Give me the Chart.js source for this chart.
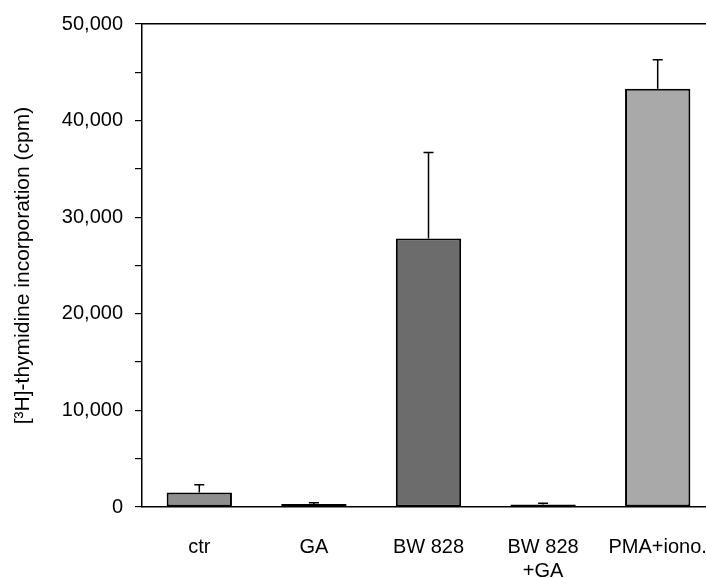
<!DOCTYPE html>
<html>
<head>
<meta charset="utf-8">
<script src="https://cdn.jsdelivr.net/npm/chart.js@4/dist/chart.umd.min.js"></script>
<style>
  html, body { margin: 0; padding: 0; background: #fff; overflow: hidden; width: 706px; height: 578px; }
  canvas { display: block; }
</style>
</head>
<body>
<canvas id="c" width="715" height="578" style="width:715px;height:578px"></canvas>
<script>
const categories = ['ctr', 'GA', 'BW 828', ['BW 828', '+GA'], 'PMA+iono.'];
const values = [1500, 300, 27800, 250, 43300];
const errors = [800, 150, 8900, 150, 3000];
const yTicks = [0, 10000, 20000, 30000, 40000, 50000];
const yTitle = '[\u00B3H]-thymidine incorporation (cpm)';

const barColors = ['#8e8e8e', '#222222', '#6c6c6c', '#222222', '#a9a9a9'];

const errorBars = {
  id: 'errorBars',
  afterDatasetsDraw(chart) {
    const ctx = chart.ctx;
    const meta = chart.getDatasetMeta(0);
    const ys = chart.scales.y;
    ctx.save();
    ctx.strokeStyle = '#000';
    ctx.lineWidth = 1.5;
    meta.data.forEach((bar, i) => {
      const x = bar.x;
      const yTop = ys.getPixelForValue(values[i]);
      const yErr = ys.getPixelForValue(values[i] + errors[i]);
      ctx.beginPath();
      ctx.moveTo(x, yTop);
      ctx.lineTo(x, yErr);
      ctx.moveTo(x - 5, yErr);
      ctx.lineTo(x + 5, yErr);
      ctx.stroke();
    });
    ctx.restore();
  }
};

function noSidePadding(scale) {
  scale.paddingLeft = 0;
  scale.paddingRight = 0;
}

new Chart(document.getElementById('c'), {
  type: 'bar',
  data: {
    labels: categories,
    datasets: [{
      data: values,
      backgroundColor: barColors,
      borderColor: '#000',
      borderWidth: 2,
      borderSkipped: false,
      barPercentage: 0.57,
      categoryPercentage: 1.0
    }]
  },
  options: {
    responsive: false,
    animation: false,
    devicePixelRatio: 1,
    layout: { padding: { top: 18, right: 0, bottom: 0, left: 0 } },
    plugins: {
      legend: { display: false },
      tooltip: { enabled: false }
    },
    scales: {
      x: {
        position: 'bottom',
        grid: { display: false, drawTicks: false },
        border: { display: true, color: '#000', width: 1.5 },
        ticks: {
          color: '#000',
          font: { family: 'Liberation Sans, Arial, sans-serif', size: 20 },
          padding: 28,
          maxRotation: 0,
          autoSkip: false
        },
        afterFit(scale) { scale.height = 71; noSidePadding(scale); }
      },
      x2: {
        type: 'category',
        position: 'top',
        labels: categories,
        grid: { display: false, drawTicks: false },
        border: { display: true, color: '#000', width: 1.5 },
        ticks: { display: false },
        afterFit(scale) { scale.height = 0; noSidePadding(scale); }
      },
      y: {
        min: 0,
        max: 50000,
        grid: { display: true, drawOnChartArea: false, drawTicks: true, tickLength: 7, color: '#000', lineWidth: 1.2 },
        border: { display: true, color: '#000', width: 1.5 },
        ticks: {
          stepSize: 5000,
          color: '#000',
          padding: 12,
          font: { family: 'Liberation Sans, Arial, sans-serif', size: 20 },
          callback(v) { return yTicks.includes(v) ? v.toLocaleString('en-US') : ''; }
        },
        title: {
          display: true,
          text: yTitle,
          color: '#000',
          font: { family: 'Liberation Sans, Arial, sans-serif', size: 21 },
          padding: { top: 11, bottom: 20 }
        },
        afterFit(scale) { scale.width = 142; }
      }
    }
  },
  plugins: [errorBars]
});
</script>
</body>
</html>
